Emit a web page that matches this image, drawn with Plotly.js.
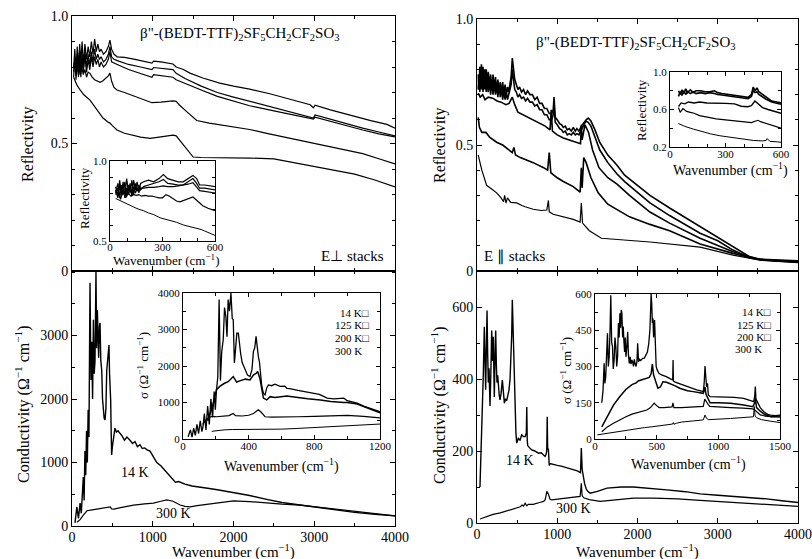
<!DOCTYPE html>
<html><head><meta charset="utf-8">
<script src="https://cdn.plot.ly/plotly-3.0.1.min.js"></script>
<style>html,body{margin:0;padding:0;background:#fff}#chart{width:812px;height:559px}</style>
</head><body><div id="chart"></div>
<script>
// ---------- Top-left: reflectivity, E perpendicular to stacks ----------
const tlX1 = [20,35,50,65,80,95,110,125,140,160,180,200,220,240,260,280,300,320,340,360,390,420,450,470,490,520,560,650,750,850,990,1010,1100,1250,1290,1380,1460,1620,1830,2000,2200,2450,2700,2950,2990,3010,3200,3450,3700,3900,4000];
const tlR1 = [0.80,0.87,0.78,0.88,0.80,0.89,0.82,0.90,0.81,0.89,0.83,0.88,0.84,0.90,0.85,0.91,0.86,0.89,0.86,0.87,0.85,0.86,0.88,0.905,0.87,0.85,0.84,0.838,0.832,0.826,0.815,0.823,0.82,0.812,0.80,0.79,0.776,0.757,0.737,0.725,0.713,0.695,0.675,0.652,0.64,0.65,0.632,0.61,0.59,0.575,0.56];
const tlX2 = [20,35,50,65,80,95,110,125,140,160,180,200,220,240,260,280,300,320,340,360,390,420,450,470,490,520,560,700,850,990,1010,1250,1290,1400,1600,1800,2000,2200,2500,2800,2990,3010,3300,3600,3800,4000];
const tlR2 = [0.76,0.84,0.77,0.85,0.76,0.86,0.79,0.85,0.78,0.86,0.80,0.85,0.81,0.86,0.82,0.87,0.83,0.85,0.83,0.84,0.82,0.83,0.85,0.88,0.84,0.83,0.825,0.81,0.80,0.79,0.798,0.79,0.775,0.755,0.725,0.70,0.682,0.665,0.64,0.617,0.60,0.612,0.585,0.56,0.545,0.53];
const tlR3 = [0.78,0.82,0.75,0.83,0.77,0.84,0.76,0.83,0.79,0.84,0.78,0.83,0.79,0.84,0.80,0.84,0.81,0.83,0.80,0.82,0.80,0.81,0.83,0.86,0.82,0.815,0.81,0.79,0.775,0.76,0.77,0.76,0.75,0.735,0.71,0.685,0.665,0.648,0.628,0.608,0.596,0.603,0.578,0.553,0.538,0.526];
const tlX4 = [20,40,60,80,100,120,140,160,180,200,223,250,280,310,347,380,420,450,470,490,520,557,650,805,990,1100,1250,1290,1330,1420,1545,1700,2000,2200,2412,2700,2990,3300,3600,3800,4000];
const tlR4 = [0.80,0.83,0.78,0.82,0.77,0.80,0.77,0.79,0.76,0.78,0.775,0.76,0.75,0.745,0.74,0.745,0.755,0.765,0.776,0.745,0.72,0.71,0.70,0.683,0.66,0.662,0.667,0.665,0.651,0.625,0.59,0.58,0.565,0.555,0.54,0.52,0.50,0.48,0.46,0.44,0.42];
const tlX5 = [20,60,100,150,223,300,384,440,470,500,557,650,730,850,970,1100,1250,1290,1330,1420,1500,1600,2000,2200,2500,2750,3000,3250,3500,3750,4000];
const tlR5 = [0.76,0.73,0.71,0.69,0.67,0.635,0.60,0.585,0.58,0.57,0.553,0.54,0.533,0.525,0.52,0.525,0.533,0.53,0.515,0.48,0.447,0.445,0.445,0.443,0.44,0.425,0.41,0.395,0.38,0.357,0.33];

// inset (top-left)
const tiX = [32,45,55,65,75,85,95,105,115,125,135,145,155,165,175,192,220,250,280,305,330,361,390,418,445,474,495,512,540,570,600];
const tiR1 = [0.84,0.78,0.88,0.80,0.87,0.78,0.89,0.81,0.86,0.79,0.88,0.82,0.87,0.80,0.86,0.87,0.88,0.87,0.89,0.915,0.89,0.88,0.87,0.87,0.89,0.91,0.89,0.85,0.85,0.845,0.84];
const tiR2 = [0.80,0.86,0.77,0.85,0.79,0.87,0.78,0.85,0.80,0.88,0.79,0.86,0.81,0.85,0.82,0.84,0.85,0.86,0.87,0.885,0.86,0.855,0.85,0.85,0.87,0.89,0.86,0.83,0.83,0.825,0.82];
const tiR3 = [0.82,0.77,0.85,0.78,0.84,0.77,0.83,0.79,0.85,0.78,0.84,0.80,0.83,0.81,0.83,0.83,0.835,0.835,0.84,0.845,0.84,0.84,0.845,0.85,0.855,0.865,0.84,0.815,0.81,0.805,0.80];
const tiX4 = [32,45,60,75,90,105,120,135,150,165,180,200,220,240,260,280,300,320,340,360,380,400,440,474,500,530,560,600];
const tiR4 = [0.79,0.83,0.76,0.81,0.77,0.80,0.78,0.79,0.785,0.79,0.78,0.785,0.78,0.78,0.775,0.77,0.77,0.79,0.78,0.765,0.75,0.745,0.76,0.775,0.75,0.72,0.705,0.69];
const tiX5 = [32,60,98,130,160,190,220,250,286,320,350,380,420,474,500,520,540,560,580,600];
const tiR5 = [0.766,0.75,0.73,0.715,0.70,0.69,0.675,0.665,0.645,0.635,0.625,0.617,0.60,0.585,0.58,0.572,0.563,0.553,0.544,0.535];

// ---------- Top-right: reflectivity, E parallel to stacks ----------
const trX1 = [15,25,35,45,55,65,75,85,95,105,115,125,140,155,170,185,200,215,230,245,260,275,290,305,320,335,350,365,380,395,410,425,440,455,470,490,510,530,555,580,605,630,660,690,720,750,780,810,840,870,900,930,950,960,975,1000,1030,1055,1075,1100,1125,1150,1175,1200,1225,1245,1270,1300,1320,1340,1360,1385,1420,1470,1530,1630,1745,1840,2000,2155,2400,2780,3000,3190,3400,3530,3800,4000];
const trR1 = [0.78,0.72,0.81,0.74,0.82,0.73,0.81,0.75,0.80,0.73,0.80,0.74,0.79,0.73,0.78,0.72,0.78,0.72,0.77,0.71,0.76,0.71,0.75,0.70,0.75,0.70,0.74,0.70,0.73,0.71,0.74,0.77,0.845,0.79,0.76,0.74,0.72,0.73,0.71,0.72,0.70,0.715,0.70,0.70,0.68,0.69,0.665,0.665,0.645,0.645,0.625,0.625,0.64,0.69,0.61,0.60,0.585,0.58,0.57,0.575,0.56,0.565,0.555,0.57,0.555,0.565,0.555,0.575,0.585,0.595,0.60,0.607,0.595,0.56,0.51,0.46,0.42,0.38,0.34,0.30,0.25,0.175,0.135,0.095,0.056,0.047,0.042,0.04];
const trR2 = [0.72,0.78,0.71,0.79,0.72,0.78,0.71,0.78,0.72,0.77,0.71,0.77,0.71,0.76,0.70,0.76,0.70,0.75,0.70,0.74,0.69,0.74,0.69,0.73,0.68,0.72,0.68,0.71,0.68,0.70,0.71,0.74,0.80,0.75,0.72,0.71,0.69,0.70,0.685,0.69,0.675,0.685,0.67,0.67,0.655,0.66,0.64,0.64,0.62,0.62,0.60,0.60,0.62,0.66,0.59,0.58,0.565,0.56,0.55,0.555,0.54,0.545,0.54,0.55,0.54,0.545,0.54,0.56,0.575,0.585,0.595,0.59,0.575,0.535,0.48,0.43,0.385,0.355,0.31,0.27,0.22,0.15,0.12,0.083,0.052,0.046,0.04,0.038];
const trX3 = [15,40,70,100,140,195,250,300,360,400,440,470,510,600,745,850,910,925,940,1000,1075,1245,1290,1300,1310,1345,1390,1440,1520,1630,1745,1900,2155,2400,2780,3190,3530,4000];
const trR3 = [0.706,0.69,0.70,0.68,0.69,0.686,0.675,0.67,0.66,0.665,0.69,0.66,0.63,0.615,0.59,0.575,0.56,0.64,0.555,0.54,0.528,0.51,0.505,0.58,0.52,0.58,0.55,0.48,0.41,0.37,0.345,0.30,0.234,0.19,0.13,0.076,0.045,0.036];
const trX4 = [15,30,60,112,160,200,250,320,400,440,460,480,540,620,700,830,880,900,920,1000,1075,1200,1285,1300,1310,1330,1360,1420,1510,1630,1745,1900,2155,2400,2780,3190,3530,4000];
const trR4 = [0.61,0.57,0.55,0.55,0.53,0.52,0.51,0.50,0.48,0.47,0.49,0.46,0.45,0.44,0.43,0.41,0.40,0.47,0.39,0.37,0.355,0.335,0.313,0.41,0.33,0.45,0.43,0.37,0.31,0.265,0.245,0.215,0.185,0.16,0.107,0.07,0.044,0.035];
const trX5 = [15,60,120,245,300,330,345,360,380,420,495,520,560,600,640,700,800,870,890,900,950,1075,1200,1285,1300,1315,1400,1550,1800,2155,2780,3190,3530,4000];
const trR5 = [0.46,0.40,0.34,0.31,0.29,0.275,0.30,0.27,0.29,0.272,0.27,0.265,0.26,0.255,0.25,0.245,0.24,0.242,0.28,0.235,0.225,0.214,0.205,0.194,0.27,0.19,0.16,0.13,0.125,0.115,0.095,0.063,0.043,0.033];

// inset (top-right)
const riX = [46,55,65,75,85,95,110,125,140,165,190,215,240,257,280,310,349,380,422,440,450,460,470,480,495,520,550,575,600];
const riR1 = [0.80,0.76,0.81,0.77,0.82,0.78,0.81,0.78,0.80,0.80,0.79,0.79,0.80,0.78,0.77,0.76,0.75,0.74,0.73,0.76,0.84,0.80,0.83,0.79,0.77,0.73,0.69,0.68,0.67];
const riR2 = [0.74,0.79,0.75,0.80,0.76,0.79,0.77,0.79,0.77,0.78,0.77,0.78,0.77,0.76,0.755,0.745,0.735,0.725,0.715,0.74,0.80,0.78,0.79,0.76,0.74,0.71,0.68,0.67,0.655];
const riX3 = [46,60,80,100,130,160,200,257,300,349,385,420,440,459,480,500,530,560,600];
const riR3 = [0.63,0.67,0.66,0.68,0.67,0.68,0.67,0.67,0.665,0.66,0.635,0.63,0.64,0.69,0.65,0.62,0.60,0.585,0.56];
const riX4 = [46,55,70,90,110,130,160,200,250,300,349,400,440,460,475,490,520,550,580,600];
const riR4 = [0.62,0.57,0.61,0.58,0.57,0.56,0.535,0.52,0.50,0.49,0.48,0.47,0.46,0.475,0.485,0.47,0.45,0.43,0.41,0.40];
const riX5 = [46,80,128,180,220,270,340,400,450,500,520,525,540,580,600];
const riR5 = [0.45,0.42,0.39,0.36,0.34,0.32,0.30,0.28,0.27,0.265,0.27,0.29,0.26,0.255,0.25];

// ---------- Bottom-left: conductivity, E perpendicular ----------
const blX14 = [37,60,80,100,115,130,140,150,160,170,180,190,200,210,223,235,245,255,265,275,285,297,305,314,322,330,340,347,357,368,378,388,398,409,420,430,440,450,458,465,472,479,485,491,500,515,532,550,570,594,620,650,680,718,750,780,810,842,870,900,930,966,990,1010,1050,1100,1150,1200,1238,1280,1320,1400,1486,1588,1700,1800,2000,2200,2412,2600,2825,3000,3237,3500,3750,4000];
const blS14 = [50,300,120,360,200,600,770,400,1180,800,1500,1000,1830,1400,3830,2300,2900,2000,3250,2400,2600,4016,2800,3400,2700,2650,3150,3200,2600,2450,2000,1780,1700,1670,1850,2450,2600,2850,2850,2400,2200,1980,1500,1120,1250,1400,1540,1480,1500,1460,1420,1350,1400,1350,1300,1330,1250,1280,1220,1230,1200,1180,1130,1100,1000,950,880,800,760,690,700,660,630,615,590,570,530,480,420,370,330,300,250,215,185,160];
const blX300 = [60,100,140,185,250,300,400,474,490,520,600,763,900,1010,1100,1175,1250,1340,1400,1464,1550,1670,1800,2000,2200,2412,2600,2825,3000,3237,3500,3750,4000];
const blS300 = [60,100,170,240,255,265,285,300,270,265,290,330,350,360,390,410,390,330,310,300,320,340,370,395,385,360,345,330,305,270,230,195,160];

// inset (bottom-left)
const biX14 = [31,45,55,65,75,85,95,105,115,122,130,140,150,160,170,180,190,197,204,212,220,228,236,245,253,261,268,275,283,292,300,306,313,320,328,337,345,351,360,378,393,408,420,429,437,445,452,459,466,473,480,490,500,510,520,540,560,592,620,633,650,700,735,760,796,830,850,878,920,960,980,1000,1030,1061,1100,1150,1200];
const biS14 = [60,250,50,300,100,400,150,500,200,340,700,250,900,400,1100,600,1300,800,1350,1700,3820,1600,2400,2720,3600,3360,2800,3820,3500,4000,3300,3270,2080,2500,2900,2900,2500,2350,2100,1900,1750,1710,1900,2400,2500,2810,2450,2260,2100,1700,1440,1250,1210,1400,1480,1460,1500,1440,1450,1390,1380,1330,1300,1280,1250,1220,1180,1120,1100,1100,1120,1050,1010,980,900,820,750];
const biX125 = [150,163,180,204,224,250,275,306,327,350,380,408,430,445,455,469,480,490,510,531,560,633,700,760,837,900,980,1000,1061,1120,1200];
const biS125 = [500,700,900,1350,1440,1520,1570,1710,1560,1600,1640,1620,1760,1800,1850,1650,1400,1120,1070,1160,1140,1180,1140,1100,1070,1030,1000,1000,960,860,720];
const biX200 = [120,140,160,180,204,240,280,306,320,360,400,429,445,459,475,490,500,540,600,700,800,900,1000,1100,1200];
const biS200 = [400,520,600,620,610,620,640,700,640,630,650,700,760,800,740,650,610,600,610,610,620,630,650,620,580];
const biX300 = [175,200,250,300,408,470,500,600,700,800,900,1000,1100,1200];
const biS300 = [210,230,250,260,260,275,260,270,290,310,330,350,380,410];

// ---------- Bottom-right: conductivity, E parallel ----------
const brX14 = [37,50,58,70,79,91,100,108,116,125,133,141,150,162,172,183,194,204,210,216,225,233,241,249,258,266,277,287,300,316,328,341,355,370,385,399,412,424,432,440,448,457,465,474,485,495,515,536,557,578,600,615,620,626,632,650,682,720,765,800,848,860,869,875,880,890,900,911,950,1000,1050,1100,1150,1200,1250,1290,1300,1310,1320,1340,1360,1380,1410,1450,1500,1620,1800,1950,2150,2365,2600,2780,3000,3200,3400,3610,3800,4000];
const brS14 = [100,180,258,330,415,545,420,370,480,590,470,390,430,325,410,535,450,517,420,350,470,535,440,390,410,370,355,342,360,397,350,333,345,340,355,370,400,462,520,620,540,480,433,300,250,222,235,230,245,240,240,250,322,230,215,210,203,200,194,195,185,190,200,295,210,203,160,165,162,160,158,155,150,148,145,140,208,150,135,110,95,88,83,85,88,97,100,100,97,92,87,81,77,74,71,67,62,57];
const brX300 = [37,80,120,200,290,400,495,540,560,580,600,620,640,700,780,830,850,870,890,910,930,1000,1120,1200,1285,1300,1310,1330,1400,1535,1700,1950,2200,2500,2780,3000,3400,3800,4000];
const brS300 = [11,15,18,24,28,35,42,45,50,47,55,48,52,52,57,60,65,88,80,66,64,66,69,72,74,110,76,70,65,60,64,69,69,67,63,60,55,50,46];

// inset (bottom-right)
const riiX14 = [55,65,74,80,87,94,101,108,115,122,128,135,142,148,155,162,169,176,183,190,196,202,208,213,218,224,229,235,240,245,251,258,265,271,278,285,292,299,305,312,319,326,333,340,346,353,360,370,380,387,400,415,425,436,445,450,455,460,465,470,475,483,490,496,505,518,540,560,578,600,620,630,633,636,650,700,742,780,824,850,878,885,892,898,905,912,919,933,1000,1069,1130,1205,1250,1287,1295,1300,1305,1320,1340,1369,1400,1424,1460,1500];
const riiS14 = [150,200,313,230,258,380,437,300,340,450,595,400,382,290,327,420,382,300,340,480,420,520,460,534,520,420,465,400,360,420,340,380,444,350,313,340,310,327,320,300,330,310,300,320,396,320,330,325,330,334,335,348,360,396,450,520,600,560,480,500,420,492,350,300,285,272,265,262,258,252,246,244,327,240,235,225,217,210,203,200,196,230,302,260,215,230,182,175,175,175,172,168,160,155,180,217,165,150,130,113,102,99,97,99];
const riiX125 = [55,80,100,115,150,200,250,300,333,350,400,440,455,465,475,490,510,530,551,580,605,650,687,750,796,850,878,885,892,900,920,933,1000,1100,1205,1280,1295,1300,1310,1340,1380,1430,1500];
const riiS125 = [50,75,90,106,140,175,205,225,232,240,248,255,270,310,265,240,210,215,237,235,230,220,210,200,196,192,189,200,215,185,160,150,150,148,141,134,150,170,130,115,100,92,95];
const riiX200 = [55,100,150,200,251,300,350,387,420,450,469,480,500,520,560,600,625,632,640,700,800,878,890,905,915,930,1000,1100,1200,1280,1300,1340,1380,1424,1500];
const riiS200 = [30,50,65,80,92,103,110,113,120,130,141,148,138,130,130,132,133,150,130,130,133,135,165,150,145,135,132,130,128,125,118,100,95,92,90];
const riiX300 = [19,55,115,200,251,300,400,469,540,560,600,630,635,640,660,700,800,878,892,905,920,1000,1100,1233,1285,1292,1298,1310,1350,1420,1500];
const riiS300 = [17,20,26,33,37,41,47,51,55,58,60,62,68,61,65,70,75,79,99,85,80,81,85,90,92,134,95,88,80,74,68];

// ---------- tick labels ----------
const mainXTicks = [0,1000,2000,3000,4000];
const reflTicks = [0,0.5,1.0], reflTickText = ['0','0.5','1.0'];
const condLTicks = [0,1000,2000,3000];
const condRTicks = [0,200,400,600];

const FONT = '"Liberation Serif", "Times New Roman", Times, serif';
const W = 812, H = 559;
const px = v => v / W, py = v => 1 - v / H;

function line(x, y, xa, ya, w) {
  return {type:'scatter', mode:'lines', x:x, y:y, xaxis:xa, yaxis:ya,
    line:{color:'#000', width:w || 1.2}, hoverinfo:'skip', showlegend:false};
}
const traces = [
  line(tlX1,tlR1,'x2','y2'), line(tlX2,tlR2,'x2','y2'), line(tlX2,tlR3,'x2','y2'), line(tlX4,tlR4,'x2','y2'), line(tlX5,tlR5,'x2','y2'),
  line(tiX,tiR1,'x5','y5'), line(tiX,tiR2,'x5','y5'), line(tiX,tiR3,'x5','y5'), line(tiX4,tiR4,'x5','y5'), line(tiX5,tiR5,'x5','y5',1),
  line(trX1,trR1,'x4','y4',1.6), line(trX1,trR2,'x4','y4',1.6), line(trX3,trR3,'x4','y4',1.6), line(trX4,trR4,'x4','y4',1.6), line(trX5,trR5,'x4','y4'),
  line(riX,riR1,'x6','y6',1.6), line(riX,riR2,'x6','y6',1.6), line(riX3,riR3,'x6','y6',1.4), line(riX4,riR4,'x6','y6',1.2), line(riX5,riR5,'x6','y6',1),
  line(blX14,blS14,'x','y',1.4), line(blX300,blS300,'x','y'),
  line(biX14,biS14,'x7','y7',1.3), line(biX125,biS125,'x7','y7',1.5), line(biX200,biS200,'x7','y7',1.2), line(biX300,biS300,'x7','y7',1),
  line(brX14,brS14,'x3','y3',1.4), line(brX300,brS300,'x3','y3'),
  line(riiX14,riiS14,'x8','y8',1.3), line(riiX125,riiS125,'x8','y8',1.5), line(riiX200,riiS200,'x8','y8',1.2), line(riiX300,riiS300,'x8','y8',1)
];

function axis(o) {
  const a = {showline:true, linecolor:'#000', linewidth:1, mirror:'allticks', ticks:'inside', ticklen:5,
    tickcolor:'#000', tickwidth:1, zeroline:false, showgrid:false, fixedrange:true,
    tickfont:{family:FONT, size:o.fs || 14, color:'#000'},
    minor:{ticks:'inside', ticklen:3, tickcolor:'#000', dtick:o.minor, tick0:0, showgrid:false}};
  delete o.fs; delete o.minor;
  return Object.assign(a, o);
}

const layout = {
  width:W, height:H, margin:{l:0,r:0,t:0,b:0}, paper_bgcolor:'#fff', plot_bgcolor:'rgba(0,0,0,0)',
  showlegend:false, font:{family:FONT, color:'#000'},
  xaxis: axis({domain:[px(72),px(395)], range:[0,4000], anchor:'y', tickmode:'array', tickvals:mainXTicks, minor:500, ticklabelstandoff:-2}),
  yaxis: axis({domain:[py(526),py(271)], range:[0,4016], anchor:'x', tickmode:'array', tickvals:condLTicks, minor:500}),
  xaxis2: axis({domain:[px(72),px(395)], range:[0,4000], anchor:'y2', tickmode:'array', tickvals:mainXTicks, showticklabels:false, minor:500}),
  yaxis2: axis({domain:[py(271),py(16)], range:[0,1], anchor:'x2', tickmode:'array', tickvals:reflTicks, ticktext:reflTickText, minor:0.1}),
  xaxis3: axis({domain:[px(477),px(798)], range:[0,4000], anchor:'y3', tickmode:'array', tickvals:mainXTicks, minor:500, ticklabelstandoff:-2}),
  yaxis3: axis({domain:[py(523),py(271)], range:[0,700], anchor:'x3', tickmode:'array', tickvals:condRTicks, minor:100}),
  xaxis4: axis({domain:[px(477),px(798)], range:[0,4000], anchor:'y4', tickmode:'array', tickvals:mainXTicks, showticklabels:false, minor:500}),
  yaxis4: axis({domain:[py(271),py(19)], range:[0,1], anchor:'x4', tickmode:'array', tickvals:reflTicks, ticktext:reflTickText, minor:0.1}),
  xaxis5: axis({domain:[px(110),px(215)], range:[0,600], anchor:'y5', tickmode:'array', tickvals:[0,300,600], minor:100, fs:11, ticklen:4, ticklabelstandoff:-4}),
  yaxis5: axis({domain:[py(241),py(161)], range:[0.5,1], anchor:'x5', tickmode:'array', tickvals:[0.5,1.0], ticktext:['0.5','1.0'], minor:0.1, fs:11, ticklen:4}),
  xaxis6: axis({domain:[px(670),px(781)], range:[0,600], anchor:'y6', tickmode:'array', tickvals:[0,300,600], minor:100, fs:11, ticklen:4, ticklabelstandoff:-3}),
  yaxis6: axis({domain:[py(147),py(72)], range:[0.2,1], anchor:'x6', tickmode:'array', tickvals:[0.2,0.6,1.0], ticktext:['0.2','0.6','1.0'], minor:0.2, fs:11, ticklen:4}),
  xaxis7: axis({domain:[px(183),px(380)], range:[0,1200], anchor:'y7', tickmode:'array', tickvals:[0,400,800,1200], minor:200, fs:11, ticklen:4, ticklabelstandoff:-3}),
  yaxis7: axis({domain:[py(439),py(293)], range:[0,4000], anchor:'x7', tickmode:'array', tickvals:[0,1000,2000,3000,4000], minor:500, fs:11, ticklen:4}),
  xaxis8: axis({domain:[px(595),px(780)], range:[0,1500], anchor:'y8', tickmode:'array', tickvals:[0,500,1000,1500], minor:250, fs:11, ticklen:4, ticklabelstandoff:-3}),
  yaxis8: axis({domain:[py(439),py(294)], range:[0,600], anchor:'x8', tickmode:'array', tickvals:[0,150,300,450,600], minor:75, fs:11, ticklen:4}),
  annotations: []
};

function note(text, x, y, size, opts) {
  layout.annotations.push(Object.assign({text:text, xref:'paper', yref:'paper', x:px(x), y:py(y),
    showarrow:false, font:{family:FONT, size:size, color:'#000'}, xanchor:'center', yanchor:'middle'}, opts || {}));
}
const formula = 'β"-(BEDT-TTF)<sub>2</sub>SF<sub>5</sub>CH<sub>2</sub>CF<sub>2</sub>SO<sub>3</sub>';
const wnTitle = 'Wavenumber (cm<sup>−1</sup>)';
const condTitle = 'Conductivity (Ω<sup>−1</sup> cm<sup>−1</sup>)';
const sigTitle = 'σ (Ω<sup>−1</sup> cm<sup>−1</sup>)';

note(formula, 240, 34, 15);
note(formula, 636, 43, 15);
note('E⊥ stacks', 386, 256, 15, {xanchor:'right'});
note('E ∥ stacks', 482, 256, 15, {xanchor:'left'});
note('Reflectivity', 28, 144, 16, {textangle:-90});
note('Reflectivity', 440, 145, 16, {textangle:-90});
note(condTitle, 22, 405, 16, {textangle:-90});
note(condTitle, 438, 405, 16, {textangle:-90});
note(wnTitle, 234, 551, 15);
note(wnTitle, 637, 551, 15);
note('14 K', 135, 472, 14);
note('300 K', 173, 513, 14);
note('14 K', 520, 460, 14);
note('300 K', 573, 508, 14);
// insets
note('Reflectivity', 84, 198, 13, {textangle:-90});
note(wnTitle, 166, 260, 13);
note('Reflectivity', 642, 110, 13, {textangle:-90});
note(wnTitle, 730, 169, 14);
note(sigTitle, 143, 366, 13, {textangle:-90});
note(wnTitle, 281, 465, 14);
note(sigTitle, 566, 371, 13, {textangle:-90});
note(wnTitle, 688, 463, 14);
// inset legends
note('14 K□', 371, 313, 11, {xanchor:'right'});
note('125 K□', 371, 325, 11, {xanchor:'right'});
note('200 K□', 371, 338, 11, {xanchor:'right'});
note('300 K', 364, 351, 11, {xanchor:'right'});
note('14 K□', 773, 312, 11, {xanchor:'right'});
note('125 K□', 773, 325, 11, {xanchor:'right'});
note('200 K□', 773, 337, 11, {xanchor:'right'});
note('300 K', 764, 349, 11, {xanchor:'right'});

Plotly.newPlot('chart', traces, layout, {displayModeBar:false, staticPlot:true});
</script></body></html>
